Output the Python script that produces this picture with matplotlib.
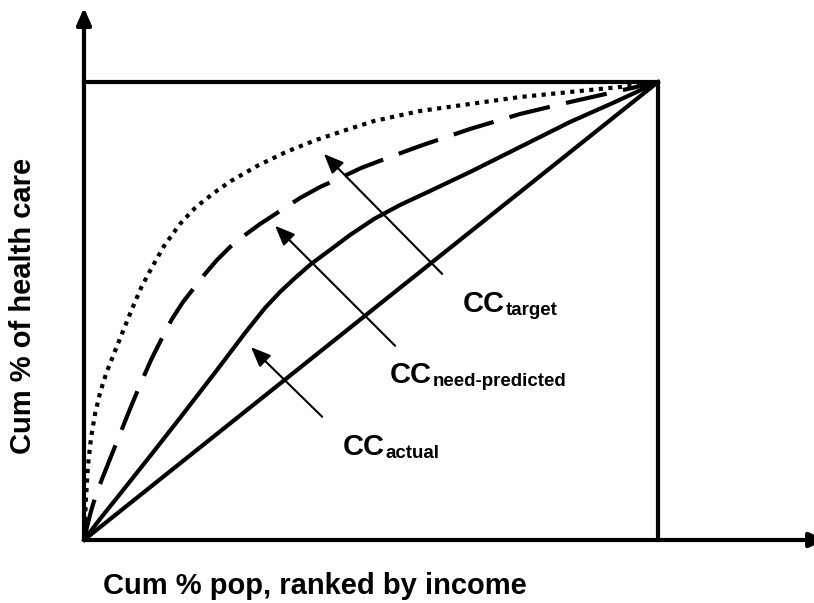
import matplotlib.pyplot as plt

plt.rcParams['font.family'] = ['Liberation Sans', 'DejaVu Sans']

# cumulative % of population (x) and of health care (y)
equal_pop = [0, 100]
equal_care = [0, 100]

actual_pop = [0, 2.79, 6.27, 11.67, 16.72, 23.17, 28.05, 31.53, 34.15, 36.76, 39.55, 42.86,
              46.34, 50.52, 55.05, 60.28, 67.25, 75.96, 84.67, 92.51, 100]
actual_care = [0, 4.59, 10.04, 18.56, 26.64, 37.12, 45.20, 50.66, 54.15, 57.21, 60.26, 63.32,
               66.59, 70.09, 73.14, 76.20, 80.35, 85.81, 91.27, 95.63, 100]

need_pop = [0, 0.52, 1.22, 2.09, 3.14, 4.53, 6.27, 8.01, 9.76, 11.67, 13.59, 15.33, 17.25, 19.16,
            21.08, 23.17, 25.44, 28.05, 30.66, 34.15, 37.63, 41.11, 44.60, 48.26, 53.31, 58.54,
            67.25, 75.96, 84.67, 91.64, 100]
need_care = [0, 2.84, 6.33, 9.83, 13.32, 17.69, 23.14, 28.60, 33.84, 39.30, 44.10, 48.25, 51.97,
             55.02, 58.08, 61.14, 63.97, 66.59, 68.99, 71.83, 74.67, 77.07, 79.04, 81.22, 83.62,
             86.03, 89.74, 93.01, 95.63, 97.60, 100]

target_pop = [0, 0.17, 0.35, 0.70, 1.22, 1.92, 2.79, 3.83, 5.05, 6.45, 8.36, 9.93, 11.67, 13.94,
              16.72, 19.34, 21.25, 23.34, 25.61, 30.14, 35.19, 40.42, 45.64, 50.52, 58.54, 67.25,
              75.96, 84.67, 95.12, 100]
target_care = [0, 4.37, 9.17, 16.38, 22.27, 27.51, 32.10, 36.24, 40.17, 44.54, 50.44, 55.02,
               59.17, 64.19, 69.00, 72.49, 74.45, 76.42, 78.38, 81.66, 84.72, 87.34, 89.52, 91.48,
               93.67, 95.20, 96.72, 97.82, 99.13, 100]

label_names = ['target', 'need-predicted', 'actual']

# arrow tails/tips and label anchors (data units)
arrow_tail = [(62.4, 58.1), (54.2, 42.4), (41.5, 26.9)]
arrow_tip = [(41.8, 84.3), (33.3, 68.6), (29.1, 42.1)]
label_pos = [(66.0, 49.8), (53.3, 34.3), (45.1, 18.6)]

fig = plt.figure(figsize=(8.14, 6.03), dpi=100)
ax = fig.add_axes([0, 0, 1, 1])
ax.set_xlim(-84 / 574 * 100, 730 / 574 * 100)
ax.set_ylim(-63 / 458 * 100, 540 / 458 * 100)
ax.axis('off')

lw = 3.0
# box (top and right)
ax.plot([0, 100, 100], [100, 100, 0], color='k', lw=lw, solid_joinstyle='miter')

# axes with arrow heads
for tip in [(0, 116.2), (129.3, 0)]:
    ax.annotate('', xy=tip, xytext=(0, 0), annotation_clip=False,
                arrowprops=dict(arrowstyle='-|>,head_length=0.5,head_width=0.22', lw=lw,
                                color='k', mutation_scale=20, shrinkA=0, shrinkB=0))

ax.plot(equal_pop, equal_care, color='k', lw=lw, solid_capstyle='butt')
ax.plot(actual_pop, actual_care, color='k', lw=lw, solid_joinstyle='round')
ax.plot(need_pop, need_care, color='k', lw=lw, ls=(0, (10, 4)), dash_capstyle='butt')
ax.plot(target_pop, target_care, color='k', lw=lw, ls=(0, (1, 1.3)), dash_capstyle='butt')

for name, tail, tip, pos in zip(label_names, arrow_tail, arrow_tip, label_pos):
    ax.annotate('', xy=tip, xytext=tail,
                arrowprops=dict(arrowstyle='-|>,head_length=0.6,head_width=0.25', lw=1.5,
                                color='k', mutation_scale=20, shrinkA=0, shrinkB=0))
    cc = ax.text(pos[0], pos[1], 'CC', fontsize=21, fontweight='bold', va='baseline', ha='left')
    ax.annotate(name, xy=(1, 0), xycoords=cc, xytext=(0.5, -1), textcoords='offset points',
                fontsize=13.5, fontweight='bold', va='bottom', ha='left')

fig.text(23 / 814, 1 - 306 / 603, 'Cum % of health care', rotation=90, ha='center', va='center',
         fontsize=21, fontweight='bold')
fig.text(315 / 814, 1 - 586 / 603, 'Cum % pop, ranked by income', ha='center', va='center',
         fontsize=21, fontweight='bold')

fig.savefig('out.png', dpi=100)
